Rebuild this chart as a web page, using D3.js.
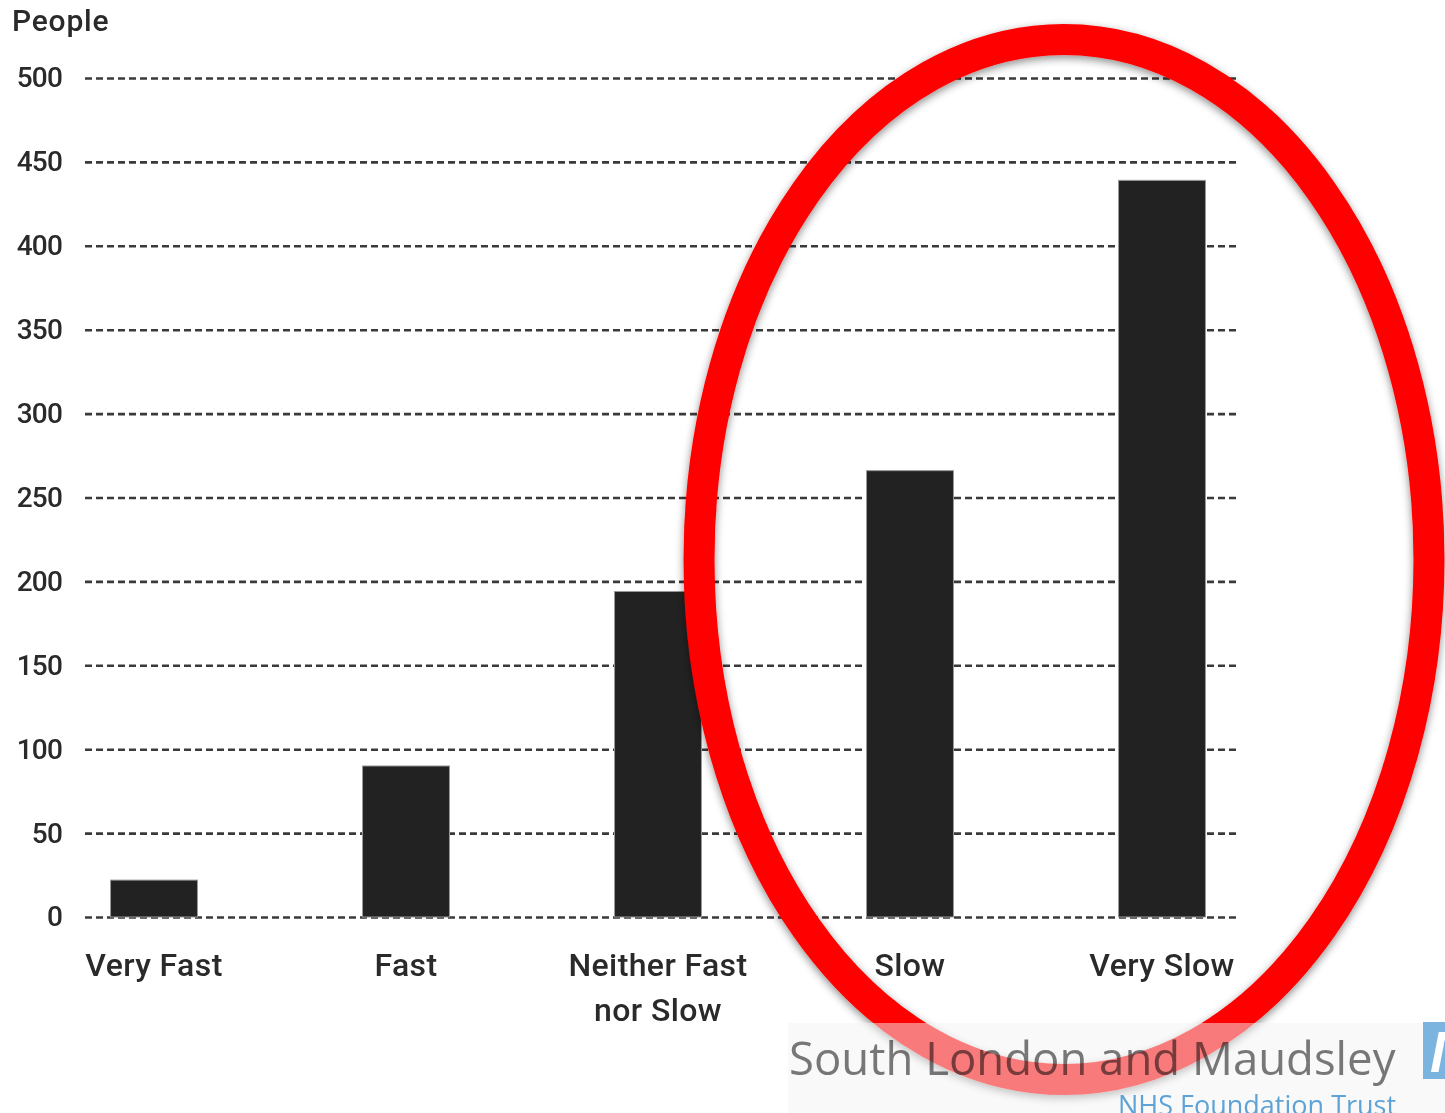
<!DOCTYPE html>
<html>
<head>
<meta charset="utf-8">
<script src="https://cdn.jsdelivr.net/npm/d3@7"></script>
<style>
  html, body { margin: 0; padding: 0; background: #fff; }
  svg { display: block; }
</style>
</head>
<body>
<svg id="chart" width="1445" height="1113"></svg>
<script>
// Survey answers: how quickly people felt they were seen
const categories = ["Very Fast", "Fast", "Neither Fast\nnor Slow", "Slow", "Very Slow"];
const people = [22, 90, 194, 266, 439];
const yTicks = [0, 50, 100, 150, 200, 250, 300, 350, 400, 450, 500];
const yTitle = "People";
const brandName = "South London and Maudsley";
const brandSub = "NHS Foundation Trust";

const svg = d3.select("#chart");
const W = 1445, H = 1113;

const plot = { left: 85, right: 1237, top: 78, bottom: 917 };

const x = d3.scaleBand()
  .domain(categories)
  .range([28, 1288])
  .paddingInner(0.655)
  .paddingOuter(0.3275);

const y = d3.scaleLinear()
  .domain([0, 500])
  .range([plot.bottom, plot.top]);

// Dashed gridlines with tick labels
const yAxis = d3.axisLeft(y)
  .tickValues(yTicks)
  .tickSize(-(plot.right - plot.left))
  .tickPadding(23)
  .tickFormat(d3.format("d"));

const gy = svg.append("g")
  .attr("transform", `translate(${plot.left},0)`)
  .call(yAxis);
gy.select(".domain").remove();
gy.selectAll(".tick line")
  .attr("stroke", "#3a3a3a")
  .attr("stroke-width", 2.6)
  .attr("stroke-dasharray", "7,4");
gy.selectAll(".tick text")
  .attr("fill", "#2a2a2a")
  .style("font-family", "Roboto, 'Noto Sans', sans-serif")
  .style("font-size", "28px")
  .style("font-weight", 500)
  .style("letter-spacing", "-0.8px");

// Axis title
svg.append("text")
  .attr("x", 12)
  .attr("y", 31)
  .attr("fill", "#2a2a2a")
  .style("font-family", "Roboto, 'Noto Sans', sans-serif")
  .style("font-size", "30px")
  .style("font-weight", 500)
  .style("letter-spacing", "0.8px")
  .text(yTitle);

// Bars
svg.append("g")
  .selectAll("rect")
  .data(people)
  .join("rect")
  .attr("x", (d, i) => x(categories[i]))
  .attr("y", d => y(d))
  .attr("width", x.bandwidth())
  .attr("height", d => y(0) - y(d))
  .attr("fill", "#222")
  .attr("stroke", "#999")
  .attr("stroke-width", 1);

// Category labels (multi-line)
const labels = svg.append("g")
  .selectAll("text")
  .data(categories)
  .join("text")
  .attr("x", d => x(d) + x.bandwidth() / 2)
  .attr("y", 976)
  .attr("text-anchor", "middle")
  .attr("fill", "#2a2a2a")
  .style("font-family", "Roboto, 'Noto Sans', sans-serif")
  .style("font-size", "32px")
  .style("font-weight", 500)
  .style("letter-spacing", "0.4px");
labels.each(function(d) {
  const t = d3.select(this);
  d.split("\n").forEach((line, i) => {
    t.append("tspan")
      .attr("x", x(d) + x.bandwidth() / 2)
      .attr("dy", i === 0 ? 0 : 45)
      .text(line);
  });
});

// Highlight ellipse around the slow answers
const defs = svg.append("defs");
const shadow = defs.append("filter")
  .attr("id", "ringShadow")
  .attr("x", "-10%").attr("y", "-10%")
  .attr("width", "120%").attr("height", "120%");
shadow.append("feDropShadow")
  .attr("dx", 0).attr("dy", 3)
  .attr("stdDeviation", 4)
  .attr("flood-color", "#000")
  .attr("flood-opacity", 0.45);

const sx = x("Slow") + x.bandwidth() / 2;
const vx = x("Very Slow") + x.bandwidth() / 2;
svg.append("ellipse")
  .attr("cx", (sx + vx) / 2 + 28)
  .attr("cy", (y(500) + y(0)) / 2 + 62)
  .attr("rx", 365)
  .attr("ry", 520)
  .attr("fill", "none")
  .attr("stroke", "#ff0000")
  .attr("stroke-width", 31)
  .attr("filter", "url(#ringShadow)");

// Trust banner along the bottom edge
const banner = svg.append("g");
banner.append("rect")
  .attr("x", 788).attr("y", 1023)
  .attr("width", W - 788).attr("height", H - 1023)
  .attr("fill", "#f3f3f3")
  .attr("fill-opacity", 0.5);
banner.append("text")
  .attr("x", 789)
  .attr("y", 1075)
  .attr("fill", "#7a7a7a")
  .style("mix-blend-mode", "multiply")
  .style("font-family", "'Open Sans', 'Noto Sans', sans-serif")
  .style("font-size", "45.5px")
  .text(brandName);
banner.append("text")
  .attr("x", 1118)
  .attr("y", 1115)
  .attr("fill", "#5fa3d6")
  .style("font-family", "'Open Sans', 'Noto Sans', sans-serif")
  .style("font-size", "27px")
  .text(brandSub);
banner.append("rect")
  .attr("x", 1423).attr("y", 1022)
  .attr("width", 30).attr("height", 57)
  .attr("fill", "#7ab4df");
banner.append("text")
  .attr("x", 1430)
  .attr("y", 1072)
  .attr("fill", "#fff")
  .style("font-family", "'Liberation Sans', Arial, sans-serif")
  .style("font-size", "58px")
  .style("font-weight", 700)
  .style("font-style", "italic")
  .text("N");
</script>
</body>
</html>
